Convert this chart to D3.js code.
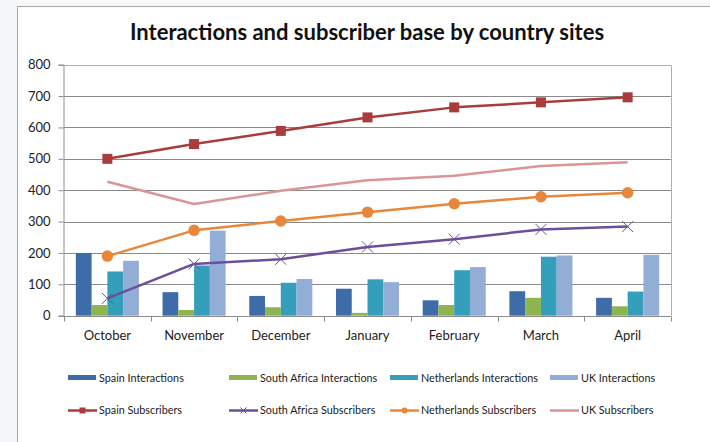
<!DOCTYPE html>
<html>
<head>
<meta charset="utf-8">
<script src="https://cdn.jsdelivr.net/npm/d3@7"></script>
<style>
  html, body { margin: 0; padding: 0; background: #f5f7f9; }
  svg { display: block; }
</style>
</head>
<body>
<svg id="chart" width="710" height="442"></svg>
<script>
// Monthly figures per country site
const months = ['October', 'November', 'December', 'January', 'February', 'March', 'April'];
const spainInteractions = [200, 75, 63, 86, 49, 78, 57];
const southAfricaInteractions = [34, 18, 27, 9, 34, 57, 30];
const netherlandsInteractions = [141, 160, 105, 116, 145, 188, 77];
const ukInteractions = [175, 271, 117, 107, 155, 192, 194];
const spainSubscribers = [500, 547, 589, 632, 664, 680, 696];
const southAfricaSubscribers = [55, 165, 180, 219, 244, 275, 284];
const netherlandsSubscribers = [190, 272, 302, 330, 357, 379, 392];
const ukSubscribers = [427, 356, 398, 432, 446, 477, 489];
const yTicks = [0, 100, 200, 300, 400, 500, 600, 700, 800];

const barSeries = [
  { name: 'Spain Interactions', values: spainInteractions, color: '#3d6ca8' },
  { name: 'South Africa Interactions', values: southAfricaInteractions, color: '#8db44f' },
  { name: 'Netherlands Interactions', values: netherlandsInteractions, color: '#359fbb' },
  { name: 'UK Interactions', values: ukInteractions, color: '#93aed6' }
];
const lineSeries = [
  { name: 'Spain Subscribers', values: spainSubscribers, color: '#a93c3c', marker: 'square' },
  { name: 'South Africa Subscribers', values: southAfricaSubscribers, color: '#6a4f9b', marker: 'x' },
  { name: 'Netherlands Subscribers', values: netherlandsSubscribers, color: '#e8873a', marker: 'circle' },
  { name: 'UK Subscribers', values: ukSubscribers, color: '#d99694', marker: 'none' }
];

const font = 'Lato, "Open Sans", sans-serif';
const svg = d3.select('#chart');

// chart frame
svg.append('rect')
  .attr('x', 17.5).attr('y', 6.5).attr('width', 720).attr('height', 460)
  .attr('fill', '#ffffff').attr('stroke', '#a6a6a6');

// title
svg.append('text')
  .attr('x', 367).attr('y', 40)
  .attr('text-anchor', 'middle')
  .attr('font-family', font).attr('font-weight', 'bold').attr('font-size', 22)
  .attr('fill', '#111')
  .text('Interactions and subscriber base by country sites');

const plot = { left: 64, right: 671, top: 64.7, bottom: 315.7 };

const x = d3.scaleBand().domain(months).range([plot.left, plot.right]);
const y = d3.scaleLinear().domain([0, 800]).range([plot.bottom, plot.top]);

// bars: gap between clusters is 150% of a bar width
const barW = x.bandwidth() / (barSeries.length + 1.5);
const xInner = d3.scaleBand()
  .domain(barSeries.map(s => s.name))
  .range([x.bandwidth() / 2 - barW * 2, x.bandwidth() / 2 + barW * 2]);

// gridlines
svg.append('g')
  .selectAll('line')
  .data(yTicks.filter(d => d > 0))
  .join('line')
  .attr('x1', plot.left).attr('x2', plot.right)
  .attr('y1', d => Math.round(y(d)) + 0.5).attr('y2', d => Math.round(y(d)) + 0.5)
  .attr('stroke', '#8a8a8a').attr('stroke-width', 1);

// plot border (top / right)
svg.append('path')
  .attr('d', `M${plot.left},${Math.round(plot.top) + 0.5}H${Math.round(plot.right) + 0.5}V${plot.bottom}`)
  .attr('fill', 'none').attr('stroke', '#9fb3c8');

// bars
svg.append('g')
  .selectAll('g')
  .data(barSeries)
  .join('g')
  .attr('fill', d => d.color)
  .selectAll('rect')
  .data(s => s.values.map((v, i) => ({ s, v, m: months[i] })))
  .join('rect')
  .attr('x', d => x(d.m) + xInner(d.s.name))
  .attr('width', xInner.bandwidth())
  .attr('y', d => y(d.v))
  .attr('height', d => y(0) - y(d.v));

// y axis
const yAxis = svg.append('g')
  .attr('transform', `translate(${plot.left - 0.5},0)`)
  .call(d3.axisLeft(y).tickValues(yTicks).tickSize(5).tickPadding(8));
yAxis.select('.domain').attr('stroke', '#8c8c8c');
yAxis.selectAll('.tick line').attr('stroke', '#8c8c8c');
yAxis.selectAll('.tick text')
  .attr('font-family', font).attr('font-size', 13).attr('fill', '#222');

// x axis: category labels, tick marks between categories
const xAxisG = svg.append('g').attr('transform', `translate(0,${Math.round(plot.bottom) + 0.5})`);
xAxisG.append('line')
  .attr('x1', plot.left - 5).attr('x2', plot.right)
  .attr('stroke', '#8c8c8c');
xAxisG.selectAll('line.tk')
  .data(months.map(m => x(m)).concat([plot.right]))
  .join('line')
  .attr('class', 'tk')
  .attr('x1', d => Math.round(d) + 0.5).attr('x2', d => Math.round(d) + 0.5)
  .attr('y1', 0).attr('y2', 5)
  .attr('stroke', '#8c8c8c');
xAxisG.selectAll('text')
  .data(months)
  .join('text')
  .attr('x', d => x(d) + x.bandwidth() / 2)
  .attr('y', 23)
  .attr('text-anchor', 'middle')
  .attr('font-family', font).attr('font-size', 13).attr('fill', '#222')
  .text(d => d);

// subscriber lines
const line = d3.line()
  .x((d, i) => x(months[i]) + x.bandwidth() / 2)
  .y(d => y(d));

function drawMarker(g, type, color, cx, cy, size) {
  if (type === 'square') {
    g.append('rect')
      .attr('x', cx - size / 2).attr('y', cy - size / 2)
      .attr('width', size).attr('height', size)
      .attr('fill', color);
  } else if (type === 'circle') {
    g.append('circle')
      .attr('cx', cx).attr('cy', cy).attr('r', size / 2)
      .attr('fill', color);
  } else if (type === 'x') {
    const h = size / 2;
    g.append('path')
      .attr('d', `M${cx - h},${cy - h}L${cx + h},${cy + h}M${cx - h},${cy + h}L${cx + h},${cy - h}`)
      .attr('stroke', color).attr('stroke-width', 1).attr('fill', 'none');
  }
}

const linesG = svg.append('g');
lineSeries.forEach(s => {
  const g = linesG.append('g');
  g.append('path')
    .attr('d', line(s.values))
    .attr('fill', 'none')
    .attr('stroke', s.color)
    .attr('stroke-width', 2.5)
    .attr('stroke-linejoin', 'round');
  s.values.forEach((v, i) => {
    drawMarker(g, s.marker, s.color, x(months[i]) + x.bandwidth() / 2, y(v),
      s.marker === 'x' ? 11 : (s.marker === 'circle' ? 11.5 : 10));
  });
});

// legend
const legendX = [68, 229, 390, 550];
const legend = svg.append('g');
barSeries.forEach((s, i) => {
  legend.append('rect')
    .attr('x', legendX[i]).attr('y', 375)
    .attr('width', 28).attr('height', 5)
    .attr('fill', s.color);
  legend.append('text')
    .attr('x', legendX[i] + 31).attr('y', 381.5)
    .attr('font-family', font).attr('font-size', 10.8).attr('fill', '#222')
    .text(s.name);
});
lineSeries.forEach((s, i) => {
  const lx = legendX[i];
  legend.append('line')
    .attr('x1', lx).attr('x2', lx + 29)
    .attr('y1', 410.5).attr('y2', 410.5)
    .attr('stroke', s.color).attr('stroke-width', 2.5);
  drawMarker(legend, s.marker, s.color, lx + 14.5, 410.5, 6);
  legend.append('text')
    .attr('x', lx + 31).attr('y', 414)
    .attr('font-family', font).attr('font-size', 10.8).attr('fill', '#222')
    .text(s.name);
});
</script>
</body>
</html>
